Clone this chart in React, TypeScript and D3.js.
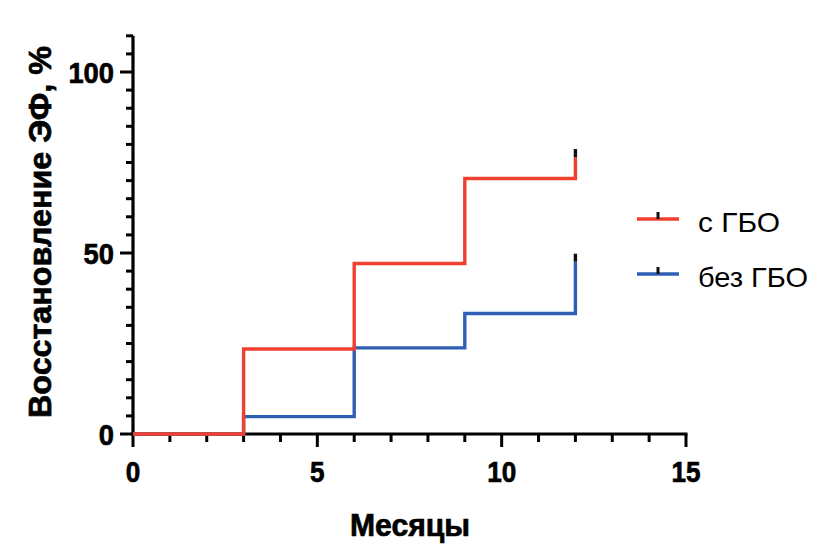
import React from "react";
import * as d3 from "d3";

const months = [0, 3, 6, 9, 12];
const withHBO = [0, 23.5, 47.1, 70.6, 76.5];
const withoutHBO = [0, 4.8, 23.8, 33.3, 47.6];
const censorWith = 12;
const censorWithout = 12;
const seriesNames = ["с ГБО", "без ГБО"];
const seriesColors = ["#f0402f", "#2f5fb5"];
const xMajorTicks = [0, 5, 10, 15];
const yMajorTicks = [0, 50, 100];

const W = 840;
const H = 557;
const FONT = "'Liberation Sans', Arial, sans-serif";

export default function App() {
  const x = d3.scaleLinear().domain([0, 15]).range([133, 686]);
  const y = d3.scaleLinear().domain([0, 100]).range([434, 72]);
  const xMinor = d3.range(0, 16, 1);
  const yMinor = d3.range(0, 111, 5);

  const line = d3
    .line<[number, number]>()
    .x((d) => x(d[0]))
    .y((d) => y(d[1]))
    .curve(d3.curveStepAfter);

  const mk = (vals: number[]) =>
    months.map((m, i) => [m, vals[i]] as [number, number]);

  const series = [
    { vals: withoutHBO, color: seriesColors[1], censor: censorWithout },
    { vals: withHBO, color: seriesColors[0], censor: censorWith },
  ];

  const lw = (s: string, per: number) => s.length * per;
  const heavy = { stroke: "#000", strokeWidth: 0.7 } as const;

  return (
    <svg width={W} height={H} style={{ position: "absolute", left: 0, top: 0 }}>
      <rect width={W} height={H} fill="#fff" />
      {/* y axis */}
      <line x1={x(0)} x2={x(0)} y1={y(0) + 1.5} y2={y(110)} stroke="#000" strokeWidth={3.2} />
      {yMinor.map((v) => (
        <line key={"ym" + v} x1={x(0)} x2={x(0) - (yMajorTicks.includes(v) ? 13 : 7)} y1={y(v)} y2={y(v)} stroke="#000" strokeWidth={3} />
      ))}
      {yMajorTicks.map((v) => (
        <text key={"yl" + v} x={x(0) - 19} y={y(v)} dy="0.36em" textAnchor="end" fontFamily={FONT} fontWeight="bold" fontSize={30} fill="#000"
          {...heavy} textLength={lw(String(v), 15.2)} lengthAdjust="spacingAndGlyphs">
          {v}
        </text>
      ))}
      {/* x axis */}
      <line x1={x(0) - 1.5} x2={x(15) + 1.5} y1={y(0)} y2={y(0)} stroke="#000" strokeWidth={3.2} />
      {xMinor.map((v) => (
        <line key={"xm" + v} x1={x(v)} x2={x(v)} y1={y(0)} y2={y(0) + (xMajorTicks.includes(v) ? 13 : 8)} stroke="#000" strokeWidth={3} />
      ))}
      {xMajorTicks.map((v) => (
        <text key={"xl" + v} x={x(v)} y={471} dy="0.36em" textAnchor="middle" fontFamily={FONT} fontWeight="bold" fontSize={30} fill="#000"
          {...heavy} textLength={lw(String(v), 14.5)} lengthAdjust="spacingAndGlyphs">
          {v}
        </text>
      ))}
      {/* series */}
      {series.map((s, i) => {
        const last = s.vals[s.vals.length - 1];
        return (
          <g key={i}>
            <path d={line(mk(s.vals)) || ""} fill="none" stroke={s.color} strokeWidth={3.4} strokeLinejoin="miter" />
            <line x1={x(s.censor)} x2={x(s.censor)} y1={y(last)} y2={y(last) - 8} stroke="#111" strokeWidth={3.4} />
          </g>
        );
      })}
      {/* axis titles */}
      <text x={410} y={524} dy="0.36em" textAnchor="middle" fontFamily={FONT} fontWeight="bold" fontSize={32} fill="#000"
        {...heavy} textLength={120} lengthAdjust="spacingAndGlyphs">
        Месяцы
      </text>
      <text transform={`translate(39,232) rotate(-90)`} dy="0.36em" textAnchor="middle" fontFamily={FONT} fontWeight="bold" fontSize={32} fill="#000"
        {...heavy} textLength={372} lengthAdjust="spacingAndGlyphs">
        Восстановление ЭФ, %
      </text>
      {/* legend */}
      {seriesNames.map((n, i) => {
        const ly = 219 + i * 55;
        return (
          <g key={n}>
            <line x1={637} x2={679} y1={ly} y2={ly} stroke={seriesColors[i]} strokeWidth={3.4} />
            <line x1={658} x2={658} y1={ly} y2={ly - 7} stroke="#111" strokeWidth={3} />
            <text x={698} y={ly + 3} dy="0.36em" fontFamily={FONT} fontSize={28} fill="#000"
              textLength={i === 0 ? 82 : 110} lengthAdjust="spacingAndGlyphs">
              {n}
            </text>
          </g>
        );
      })}
    </svg>
  );
}
